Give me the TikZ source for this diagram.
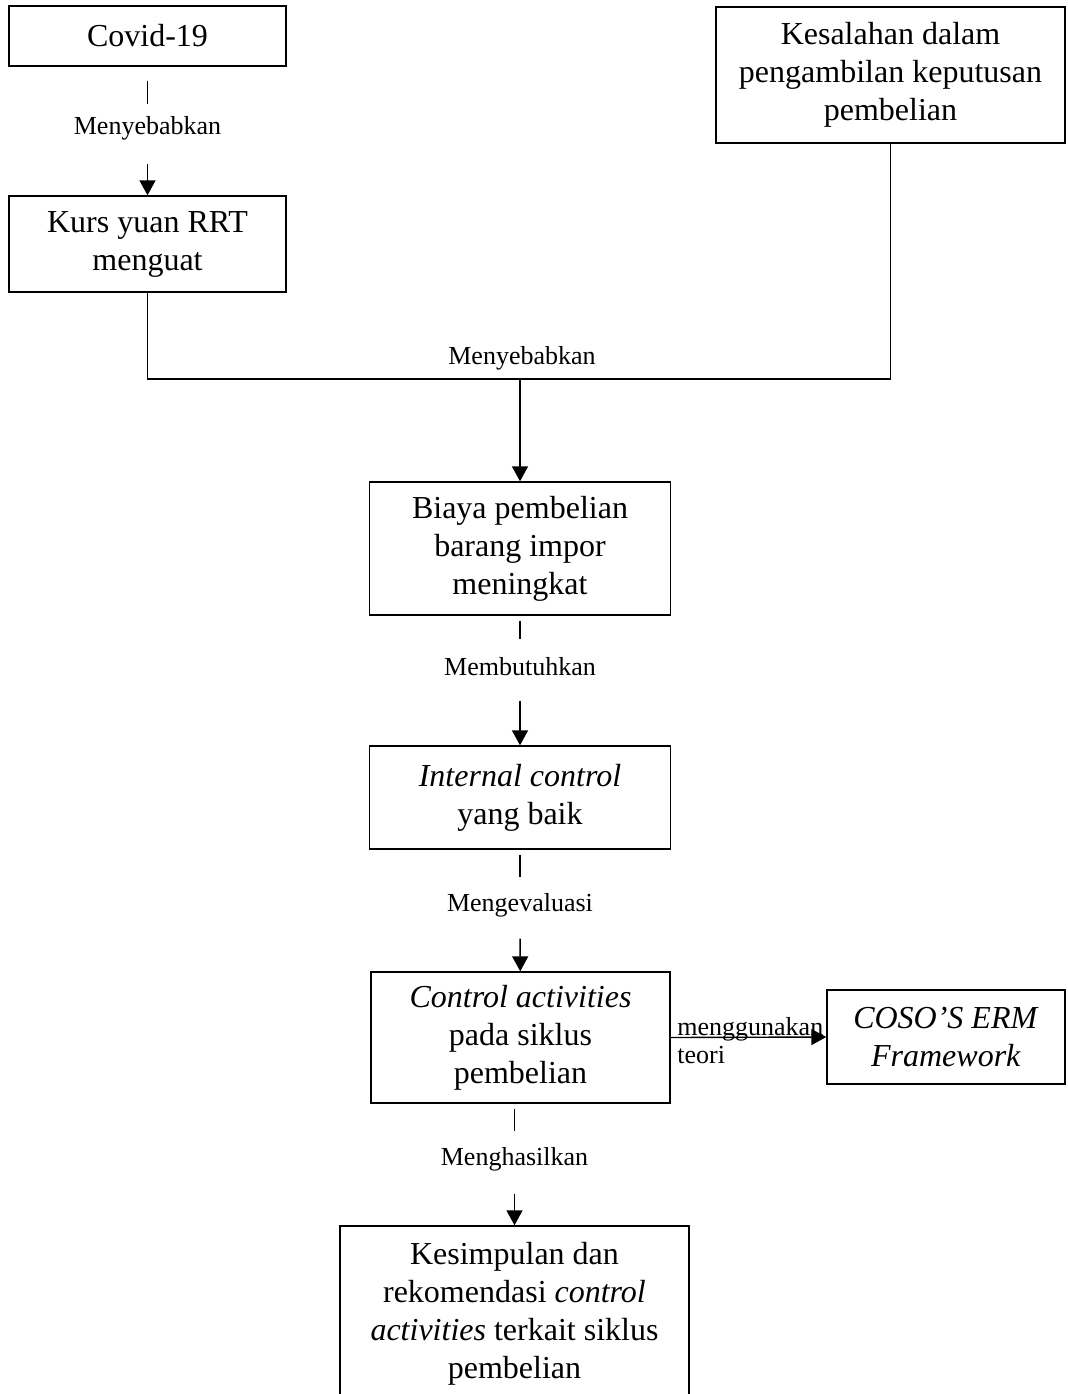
\documentclass[tikz,border=0pt]{standalone}
\usepackage{fontspec}
\setmainfont{Liberation Serif}
\usepackage{tikz}
\usetikzlibrary{arrows.meta}

\begin{document}
\begin{tikzpicture}[x=0.5pt,y=-0.5pt,line width=0.7pt,
  kotak/.style={draw,align=center,inner sep=0pt,font=\fontsize{16}{19}\selectfont},
  ket/.style={inner sep=0pt,font=\fontsize{13}{15.6}\selectfont},
  sela/.style={ket,minimum height=27pt},
  panah/.style={-{Triangle[width=8pt,length=7.5pt]}}]
\useasboundingbox (0,0) rectangle (1067,1394);

\node[kotak,minimum width=138.5pt,minimum height=30pt] (covid) at (147.5,36) {Covid-19};
\node[kotak,minimum width=138.5pt,minimum height=48pt] (kurs) at (147.5,244) {Kurs yuan RRT\\menguat};
\node[kotak,minimum width=174.5pt,minimum height=68pt] (salah) at (890.5,75)
  {Kesalahan dalam\\pengambilan keputusan\\pembelian};
\node[kotak,minimum width=150.5pt,minimum height=66.5pt] (biaya) at (520,548.5)
  {Biaya pembelian\\barang impor\\meningkat};
\node[kotak,minimum width=150.5pt,minimum height=51.5pt] (internal) at (520,797.5)
  {\textit{Internal control}\\yang baik};
\node[kotak,minimum width=149.5pt,minimum height=65.5pt] (aktivitas) at (520.5,1037.5)
  {\textit{Control activities}\\pada siklus\\pembelian};
\node[kotak,minimum width=119pt,minimum height=47pt] (coso) at (946,1037)
  {\textit{COSO’S ERM}\\\textit{Framework}};
\node[kotak,minimum width=174.5pt,minimum height=88pt] (simpul) at (514.5,1314)
  {Kesimpulan dan\\rekomendasi \textit{control}\\\textit{activities} terkait siklus\\pembelian};

\node[sela] (sebab1) at (147.5,128) {Menyebabkan};
\node[ket] (sebab2) at (522,358) {Menyebabkan};
\node[sela] (butuh) at (520,667) {Membutuhkan};
\node[sela] (evaluasi) at (520,905) {Mengevaluasi};
\node[sela] (hasil) at (514.5,1159) {Menghasilkan};

\draw[shorten <=7pt,shorten >=-2pt] (covid) -- (sebab1);
\draw[panah,shorten <=4pt] (sebab1) -- (kurs);

\coordinate (temu) at (520,379);
\draw (kurs.south) |- (temu) -| (salah.south);
\draw[panah] (temu) -- (biaya);

\draw[shorten <=2.5pt] (biaya) -- (butuh);
\draw[panah,shorten <=3pt] (butuh) -- (internal);

\draw[shorten <=2.5pt] (internal) -- (evaluasi);
\draw[panah,shorten <=3pt] (evaluasi) -- (aktivitas);

\draw[shorten <=2.5pt] (aktivitas.south -| hasil) -- (hasil);
\draw[panah,shorten <=3.5pt] (hasil) -- (simpul);

\draw[panah] (aktivitas.east) -- (coso.west);
\node[ket,anchor=base west,xshift=3pt,yshift=1pt] (pakai) at (aktivitas.east) {menggunakan};
\node[ket,anchor=north west,xshift=3pt,yshift=-4pt] (teori) at (aktivitas.east) {teori};
\end{tikzpicture}
\end{document}
